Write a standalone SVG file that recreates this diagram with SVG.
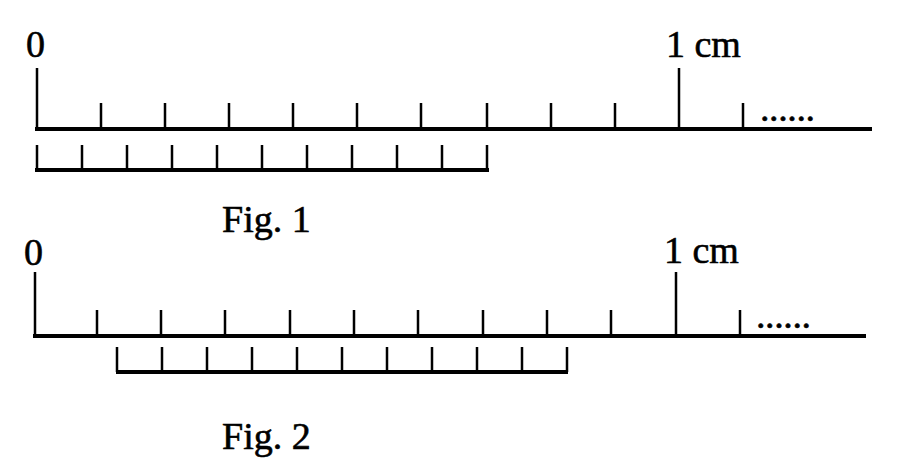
<svg xmlns="http://www.w3.org/2000/svg" width="900" height="473" viewBox="0 0 900 473">
<style>
.l{stroke:#000;stroke-width:4;fill:none}
.t{stroke:#000;stroke-width:2.5;fill:none}
text{font-family:"Liberation Serif",serif;font-size:38px;fill:#000;stroke:#000;stroke-width:0.6}
</style>
<rect width="900" height="473" fill="#fff"/>
<g id="fig1">
<path class="l" d="M35 129H872M35 170H489"/>
<path class="t" d="M37 68V129M679 68V129M101 103V129M165 103V129M229 103V129M293 103V129M357 103V129M421 103V129M487 103V129M551 103V129M615 103V129M743 103V129"/>
<path class="t" d="M37 145V170M82 145V170M127 145V170M172 145V170M217 145V170M262 145V170M307 145V170M352 145V170M397 145V170M442 145V170M487 145V170"/>
<text x="26" y="57">0</text>
<text x="666" y="57">1 cm</text>
<text x="760" y="121" font-size="28" textLength="55">......</text>
<text x="222" y="232">Fig. 1</text>
</g>
<g id="fig2">
<path class="l" d="M33 336H866M116 372H568"/>
<path class="t" d="M35 272V336M676 272V336M97 310V336M161 310V336M225 310V336M290 310V336M354 310V336M418 310V336M483 310V336M547 310V336M611 310V336M740 310V336"/>
<path class="t" d="M117 347V372M162 347V372M207 347V372M252 347V372M297 347V372M342 347V372M387 347V372M432 347V372M477 347V372M522 347V372M567 347V372"/>
<text x="24" y="265">0</text>
<text x="664" y="263">1 cm</text>
<text x="756" y="328" font-size="28" textLength="55">......</text>
<text x="222" y="449">Fig. 2</text>
</g>
</svg>
